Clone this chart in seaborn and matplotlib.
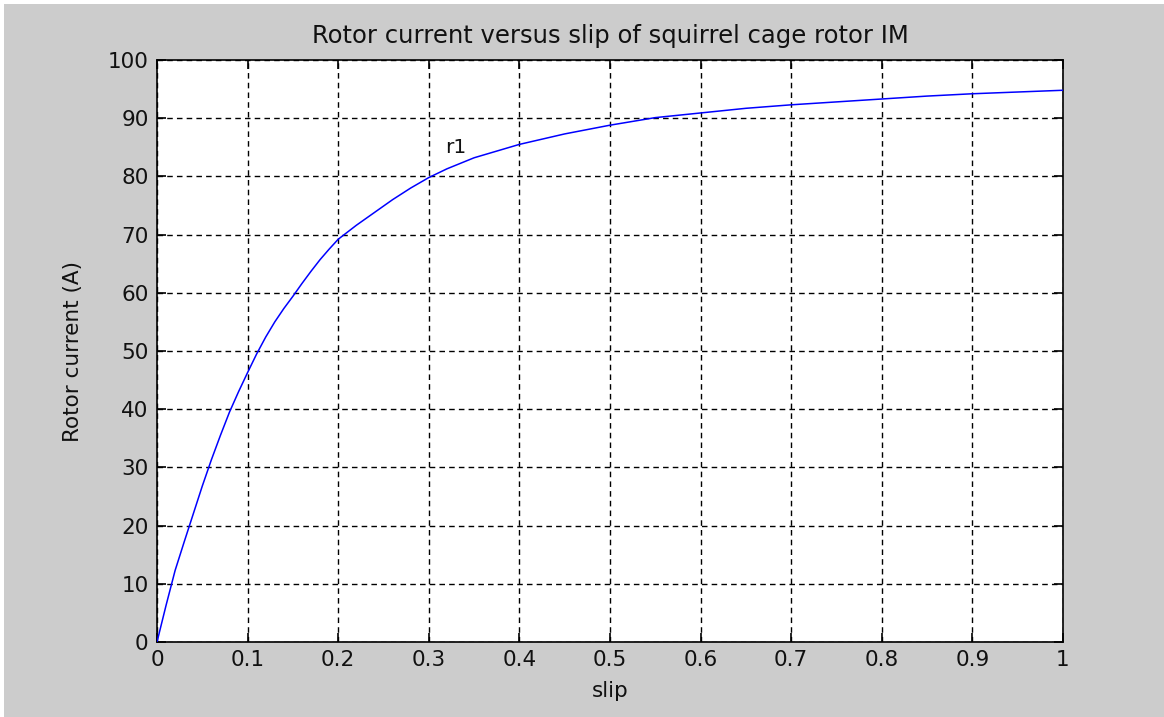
import matplotlib
matplotlib.use("Agg")
import matplotlib.pyplot as plt
import seaborn as sns
import pandas as pd
from matplotlib.patches import Rectangle

# Data
slip = [0.00, 0.01, 0.02, 0.03, 0.04, 0.05, 0.06, 0.07, 0.08, 0.09, 0.10,
        0.11, 0.12, 0.13, 0.14, 0.15, 0.16, 0.17, 0.18, 0.19, 0.20, 0.22,
        0.24, 0.26, 0.28, 0.30, 0.32, 0.35, 0.40, 0.45, 0.50, 0.55, 0.60,
        0.65, 0.70, 0.75, 0.80, 0.85, 0.90, 0.95, 1.00]
rotor_current = [0.0, 6.3, 12.3, 17.2, 22.0, 26.8, 31.3, 35.5, 39.5, 43.0, 46.3,
                 49.5, 52.4, 55.0, 57.3, 59.4, 61.6, 63.7, 65.7, 67.5, 69.2, 71.6,
                 73.8, 76.0, 78.0, 79.8, 81.3, 83.2, 85.5, 87.3, 88.8, 90.1, 90.9,
                 91.7, 92.3, 92.8, 93.3, 93.8, 94.2, 94.5, 94.8]
x_ticks = [0, 0.1, 0.2, 0.3, 0.4, 0.5, 0.6, 0.7, 0.8, 0.9, 1]
x_tick_labels = ["0", "0.1", "0.2", "0.3", "0.4", "0.5", "0.6", "0.7", "0.8", "0.9", "1"]
y_ticks = [0, 10, 20, 30, 40, 50, 60, 70, 80, 90, 100]
y_tick_labels = [str(v) for v in y_ticks]
title = "Rotor current versus slip of squirrel cage rotor IM"
x_label = "slip"
y_label = "Rotor current (A)"
annotation = ("r1", 0.318, 85.0)

sns.set_style("ticks")
plt.rcParams['font.family'] = ['DejaVu Sans']

df = pd.DataFrame({"slip": slip, "current": rotor_current})

fig = plt.figure(figsize=(11.64, 7.17), dpi=100, facecolor="#cccccc")
# thin white frame at top and left (screenshot edge)
fig.patches.append(Rectangle((0, 1 - 4/717), 1, 4/717, transform=fig.transFigure,
                             facecolor="white", edgecolor="none", zorder=-1))
fig.patches.append(Rectangle((0, 0), 4/1164, 1, transform=fig.transFigure,
                             facecolor="white", edgecolor="none", zorder=-1))

ax = fig.add_axes([157/1164, 1 - 642/717, (1063 - 157)/1164, (642 - 60)/717])
ax.set_facecolor("white")

sns.lineplot(data=df, x="slip", y="current", ax=ax, color="#0000ff",
             linewidth=1.1, estimator=None, sort=False, zorder=3)

ax.set_xlim(0, 1)
ax.set_ylim(0, 100)
ax.set_xticks(x_ticks)
ax.set_xticklabels(x_tick_labels)
ax.set_yticks(y_ticks)
ax.set_yticklabels(y_tick_labels)

ax.grid(True, color="black", linestyle=(0, (4, 3)), linewidth=1.0)
ax.set_axisbelow(True)

for sp in ax.spines.values():
    sp.set_visible(True)
    sp.set_color("black")
    sp.set_linewidth(1.2)

ax.tick_params(direction="in", length=6.5, width=1.2, colors="black",
               top=True, right=True, labelsize=15.5, pad=6)
for lab in ax.get_xticklabels() + ax.get_yticklabels():
    lab.set_color("#111111")

ax.set_title(title, fontsize=17.5, color="#111111", pad=12)
ax.set_xlabel(x_label, fontsize=15.5, color="#111111", labelpad=8)
ax.set_ylabel(y_label, fontsize=15.5, color="#111111", labelpad=18)

ax.text(annotation[1], annotation[2], annotation[0], fontsize=14.5,
        color="#111111", ha="left", va="center")

fig.savefig("out.png", dpi=100, facecolor=fig.get_facecolor())
